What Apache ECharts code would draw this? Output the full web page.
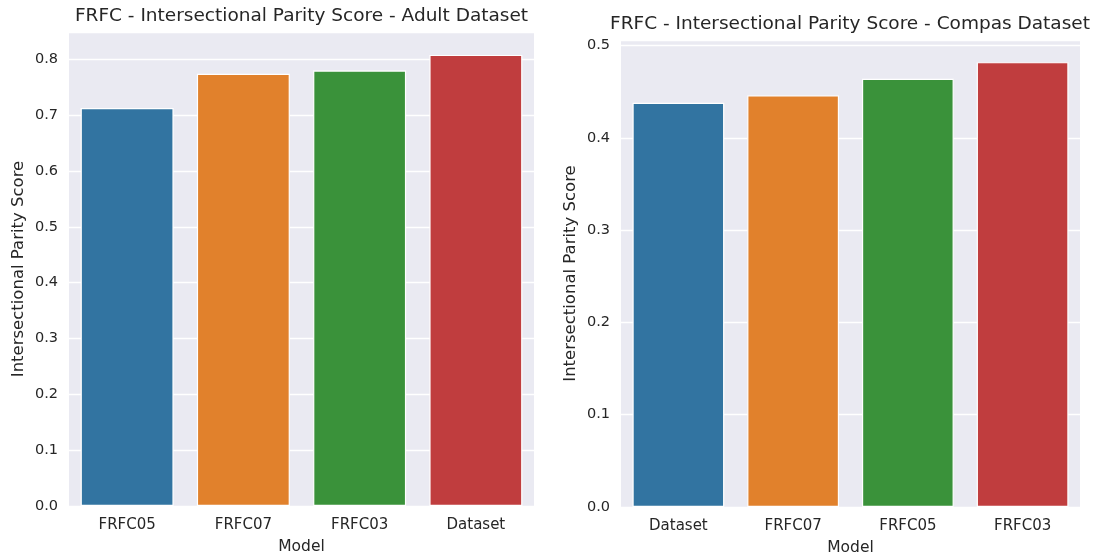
<!DOCTYPE html>
<html><head><meta charset="utf-8">
<script src="https://cdn.jsdelivr.net/npm/echarts@6/dist/echarts.min.js"></script>
<style>html,body{margin:0;padding:0;background:#fff}#c{width:1099px;height:556px}</style>
</head><body><div id="c"></div>
<script>
const adultCategories = ['FRFC05', 'FRFC07', 'FRFC03', 'Dataset'];
const adultValues = [0.713, 0.774, 0.780, 0.808];
const compasCategories = ['Dataset', 'FRFC07', 'FRFC05', 'FRFC03'];
const compasValues = [0.438, 0.446, 0.464, 0.482];
const adultTicks = [0.0, 0.1, 0.2, 0.3, 0.4, 0.5, 0.6, 0.7, 0.8];
const compasTicks = [0.0, 0.1, 0.2, 0.3, 0.4, 0.5];
const palette = ['#3274A1', '#E1812C', '#3A923A', '#C03D3E'];

const font = 'DejaVu Sans';
const chart = echarts.init(document.getElementById('c'), null, {renderer: 'canvas'});

function yAxis(idx, max, ticks) {
  return {
    type: 'value', gridIndex: idx, min: 0, max: max, interval: 0.1,
    name: 'Intersectional Parity Score', nameLocation: 'middle', nameGap: 42,
    nameTextStyle: {fontFamily: font, fontSize: 16.5, color: '#262626'},
    axisLine: {show: false}, axisTick: {show: false},
    axisLabel: {fontFamily: font, fontSize: 14.5, color: '#262626', margin: 11,
      formatter: v => {
        const t = ticks.find(k => Math.abs(k - v) < 1e-6);
        return t === undefined ? '' : t.toFixed(1);
      }},
    splitLine: {show: true, lineStyle: {color: '#ffffff', width: 1.3}}
  };
}
function xAxis(idx, cats) {
  return {
    type: 'category', gridIndex: idx, data: cats,
    name: 'Model', nameLocation: 'middle', nameGap: 33,
    nameTextStyle: {fontFamily: font, fontSize: 15.5, color: '#262626'},
    axisLine: {show: false}, axisTick: {show: false},
    axisLabel: {fontFamily: font, fontSize: 15, color: '#262626', margin: 12},
    splitLine: {show: false}
  };
}
function barSeries(idx, vals) {
  return {
    type: 'bar', xAxisIndex: idx, yAxisIndex: idx, barCategoryGap: '20%',
    data: vals.map((v, i) => ({value: v, itemStyle: {color: palette[i]}})),
    itemStyle: {borderColor: '#ffffff', borderWidth: 1.2}
  };
}

chart.setOption({
  animation: false,
  backgroundColor: '#ffffff',
  title: [
    {text: 'FRFC - Intersectional Parity Score - Adult Dataset', left: 301.5, top: 7, textAlign: 'center', padding: 0,
      textStyle: {fontFamily: font, fontSize: 18.5, fontWeight: 'normal', color: '#262626'}},
    {text: 'FRFC - Intersectional Parity Score - Compas Dataset', left: 850, top: 15, textAlign: 'center', padding: 0,
      textStyle: {fontFamily: font, fontSize: 18.5, fontWeight: 'normal', color: '#262626'}}
  ],
  grid: [
    {left: 69, right: 565, top: 32, bottom: 50, show: true, backgroundColor: '#EAEAF2', borderWidth: 0,
      containLabel: false, outerBoundsMode: 'none'},
    {left: 621, right: 19, top: 40, bottom: 49, show: true, backgroundColor: '#EAEAF2', borderWidth: 0,
      containLabel: false, outerBoundsMode: 'none'}
  ],
  xAxis: [xAxis(0, adultCategories), xAxis(1, compasCategories)],
  yAxis: [yAxis(0, 0.849, adultTicks), yAxis(1, 0.506, compasTicks)],
  series: [barSeries(0, adultValues), barSeries(1, compasValues)]
});
</script></body></html>
